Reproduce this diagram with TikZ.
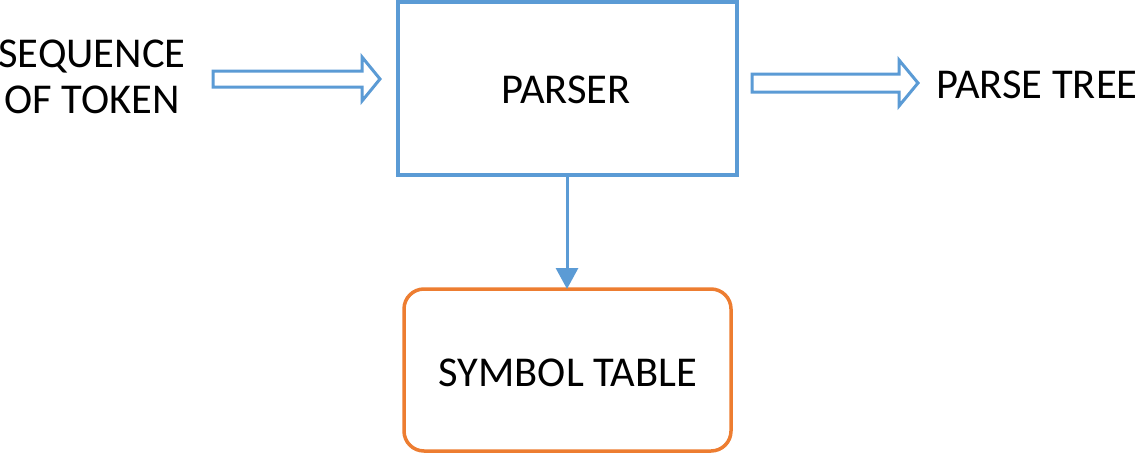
\documentclass[tikz,border=0pt]{standalone}
\usepackage{fontspec}
\setmainfont{Carlito}
\usetikzlibrary{arrows.meta}
\definecolor{boxblue}{HTML}{5B9BD5}
\definecolor{boxorange}{HTML}{ED7D31}
\begin{document}
\begin{tikzpicture}[x=1pt,y=-1pt,
  lbl/.style={font=\fontsize{42.5}{46}\selectfont, align=center, inner sep=0pt, text=black},
  blockarrow/.style={draw=boxblue, line width=3pt, line join=miter, fill=white},
  parserbox/.style={draw=boxblue, line width=3.5pt},
  tablebox/.style={draw=boxorange, line width=3.5pt, rounded corners=20pt},
  flow/.style={draw=boxblue, line width=3pt, -{Triangle[width=22pt,length=21pt]}}]
\useasboundingbox (0,0) rectangle (1139,455);
\path[fill=white] (0,0) rectangle (1139,455);
% boxes
\draw[parserbox] (398,2) rectangle (737,175);
\node[lbl] (parser) at (566,90) {PARSER};
\coordinate (pbot) at (567,175);
\draw[tablebox] (404,289) rectangle (731,451);
\node[lbl] (table) at (568,373) {SYMBOL TABLE};
\coordinate (ttop) at (567,289);
\draw[flow] (pbot) -- (ttop);
% texts
\node[lbl] (input) at (92,77) {SEQUENCE\\OF TOKEN};
\node[lbl] (output) at (1037,85) {PARSE TREE};
% block arrows
\draw[blockarrow] (213,71) -- (362,71) -- (362,57) -- (380,79) -- (362,101) -- (362,87) -- (213,87) -- cycle;
\draw[blockarrow] (752,74) -- (899,74) -- (899,60) -- (918,83) -- (899,106) -- (899,92) -- (752,92) -- cycle;
\end{tikzpicture}
\end{document}
